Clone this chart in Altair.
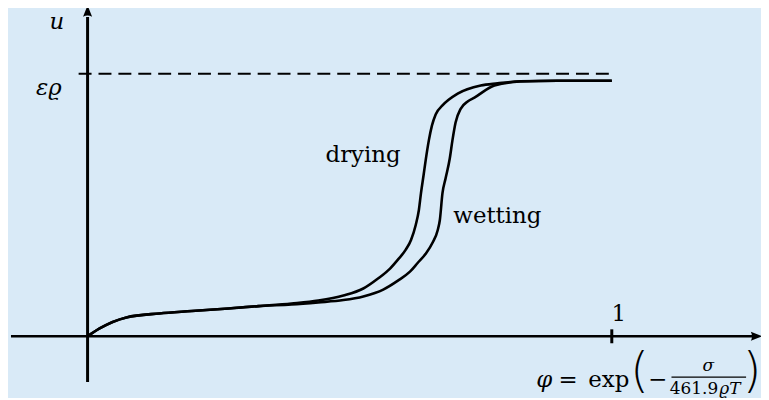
import altair as alt
import pandas as pd

# ---- data (phi in units of 1, u in units of eps*rho) ----
drying_phi = [0, 0.023, 0.074, 0.137, 0.199, 0.269, 0.326, 0.389, 0.440, 0.488, 0.526,
              0.554, 0.577, 0.592, 0.607, 0.617, 0.626, 0.632, 0.636, 0.641, 0.645,
              0.651, 0.657, 0.664, 0.677, 0.706, 0.750, 0.782, 0.825, 0.896, 1.0]
drying_u = [0, 0.030, 0.072, 0.087, 0.096, 0.106, 0.115, 0.125, 0.136, 0.155, 0.182,
            0.220, 0.258, 0.292, 0.330, 0.367, 0.424, 0.481, 0.545, 0.614, 0.671,
            0.746, 0.803, 0.845, 0.879, 0.924, 0.955, 0.963, 0.971, 0.973, 0.973]
wetting_phi = [0, 0.023, 0.074, 0.137, 0.199, 0.269, 0.326, 0.389, 0.440, 0.488, 0.526,
               0.564, 0.592, 0.615, 0.630, 0.645, 0.658, 0.668, 0.672, 0.677, 0.683,
               0.691, 0.696, 0.702, 0.712, 0.725, 0.738, 0.776, 0.825, 0.896, 1.0]
wetting_u = [0, 0.030, 0.072, 0.087, 0.096, 0.106, 0.115, 0.121, 0.129, 0.138, 0.152,
             0.178, 0.212, 0.246, 0.280, 0.314, 0.356, 0.405, 0.443, 0.545, 0.602,
             0.678, 0.746, 0.814, 0.867, 0.894, 0.909, 0.955, 0.970, 0.973, 0.973]
saturation_level = 1.0          # eps * rho
tick_phi = 1.0

BG = "#d9eaf7"
SERIF = "DejaVu Serif"

W, H = 757, 390
# scale: page px -> data  (origin at page (88,337); phi=1 at 615; eps*rho at 73)
XDOM = [(8 - 88) / 527, (8 + W - 88) / 527]
YDOM = [(337 - (8 + H)) / 264, (337 - 8) / 264]


def px(page_x):
    return (page_x - 88) / 527


def py(page_y):
    return (337 - page_y) / 264


xs = alt.Scale(domain=XDOM, nice=False, zero=False)
ys = alt.Scale(domain=YDOM, nice=False, zero=False)
X = lambda f="x": alt.X(f"{f}:Q", scale=xs, axis=None)
Y = lambda f="y": alt.Y(f"{f}:Q", scale=ys, axis=None)

curves = pd.DataFrame(
    [{"x": a, "y": b, "s": "drying", "i": i} for i, (a, b) in enumerate(zip(drying_phi, drying_u))]
    + [{"x": a, "y": b, "s": "wetting", "i": i} for i, (a, b) in enumerate(zip(wetting_phi, wetting_u))]
)

curve_layer = alt.Chart(curves).mark_line(
    color="black", strokeWidth=2.6, interpolate="monotone", clip=False
).encode(x=X(), y=Y(), detail="s:N", order="i:Q")

# axes lines
segs = pd.DataFrame([
    {"x": px(11), "x2": px(757), "y": 0, "y2": 0, "w": 2.5},          # phi axis
    {"x": 0, "x2": 0, "y": py(383), "y2": py(16), "w": 3.0},           # u axis
    {"x": tick_phi, "x2": tick_phi, "y": py(330), "y2": py(344), "w": 3.0},  # tick at 1
])
axes_layer = alt.Chart(segs).mark_rule(color="black", clip=False).encode(
    x=X(), x2="x2:Q", y=Y(), y2="y2:Q", strokeWidth=alt.StrokeWidth("w:Q", scale=None)
)

dash_df = pd.DataFrame([{"x": px(79), "x2": tick_phi, "y": saturation_level}])
dash_layer = alt.Chart(dash_df).mark_rule(
    color="black", strokeWidth=2, strokeDash=[13, 7], clip=False
).encode(x=X(), x2="x2:Q", y=Y())

# arrow heads
arrows = pd.DataFrame([
    {"x": px(760.5), "y": 0, "a": 0},
    {"x": 0, "y": py(10), "a": -90},
])
arrow_layer = alt.Chart(arrows).mark_point(
    shape="M -1 -0.8 L 1 0 L -1 0.8 Q -0.6 0 -1 -0.8 Z", filled=True, color="black",
    size=130, opacity=1, clip=False
).encode(x=X(), y=Y(), angle=alt.Angle("a:Q", scale=None))

# fraction bar
frac_df = pd.DataFrame([{"x": px(675), "x2": px(750), "y": py(378)}])
frac_layer = alt.Chart(frac_df).mark_rule(color="black", strokeWidth=1.3, clip=False).encode(
    x=X(), x2="x2:Q", y=Y()
)


def label(text, page_x, page_y, size=23, style="normal", align="center",
          font=SERIF, weight=400):
    df = pd.DataFrame([{"x": px(page_x), "y": py(page_y), "t": text}])
    return alt.Chart(df).mark_text(
        font=font, fontSize=size, fontStyle=style, fontWeight=weight, color="black",
        align=align, baseline="alphabetic", clip=False
    ).encode(x=X(), y=Y(), text="t:N")


texts = [
    label("u", 57, 28, style="italic"),
    label("εϱ", 49, 94, style="italic"),
    label("1", 622, 322),
    label("drying", 365, 162),
    label("wetting", 500, 223),
    label("φ", 547, 388, style="italic"),
    label("=", 571, 388),
    label("exp", 612, 388),
    label("(", 643, 388, size=48, font="DejaVu Sans", weight=200),
    label("−", 661, 388),
    label("σ", 712, 372, size=17, style="italic"),
    label("461.9", 722, 395, size=17, align="right"),
    label("ϱT", 723, 395, size=17, style="italic", align="left"),
    label(")", 756, 388, size=48, font="DejaVu Sans", weight=200),
]

chart = alt.layer(
    dash_layer, axes_layer, arrow_layer, curve_layer, frac_layer, *texts
).properties(
    width=W, height=H, background=BG, padding=0,
    autosize=alt.AutoSizeParams(type="none")
).configure_view(stroke=None)

chart.save("out.html", embed_options={"renderer": "svg", "actions": False})
